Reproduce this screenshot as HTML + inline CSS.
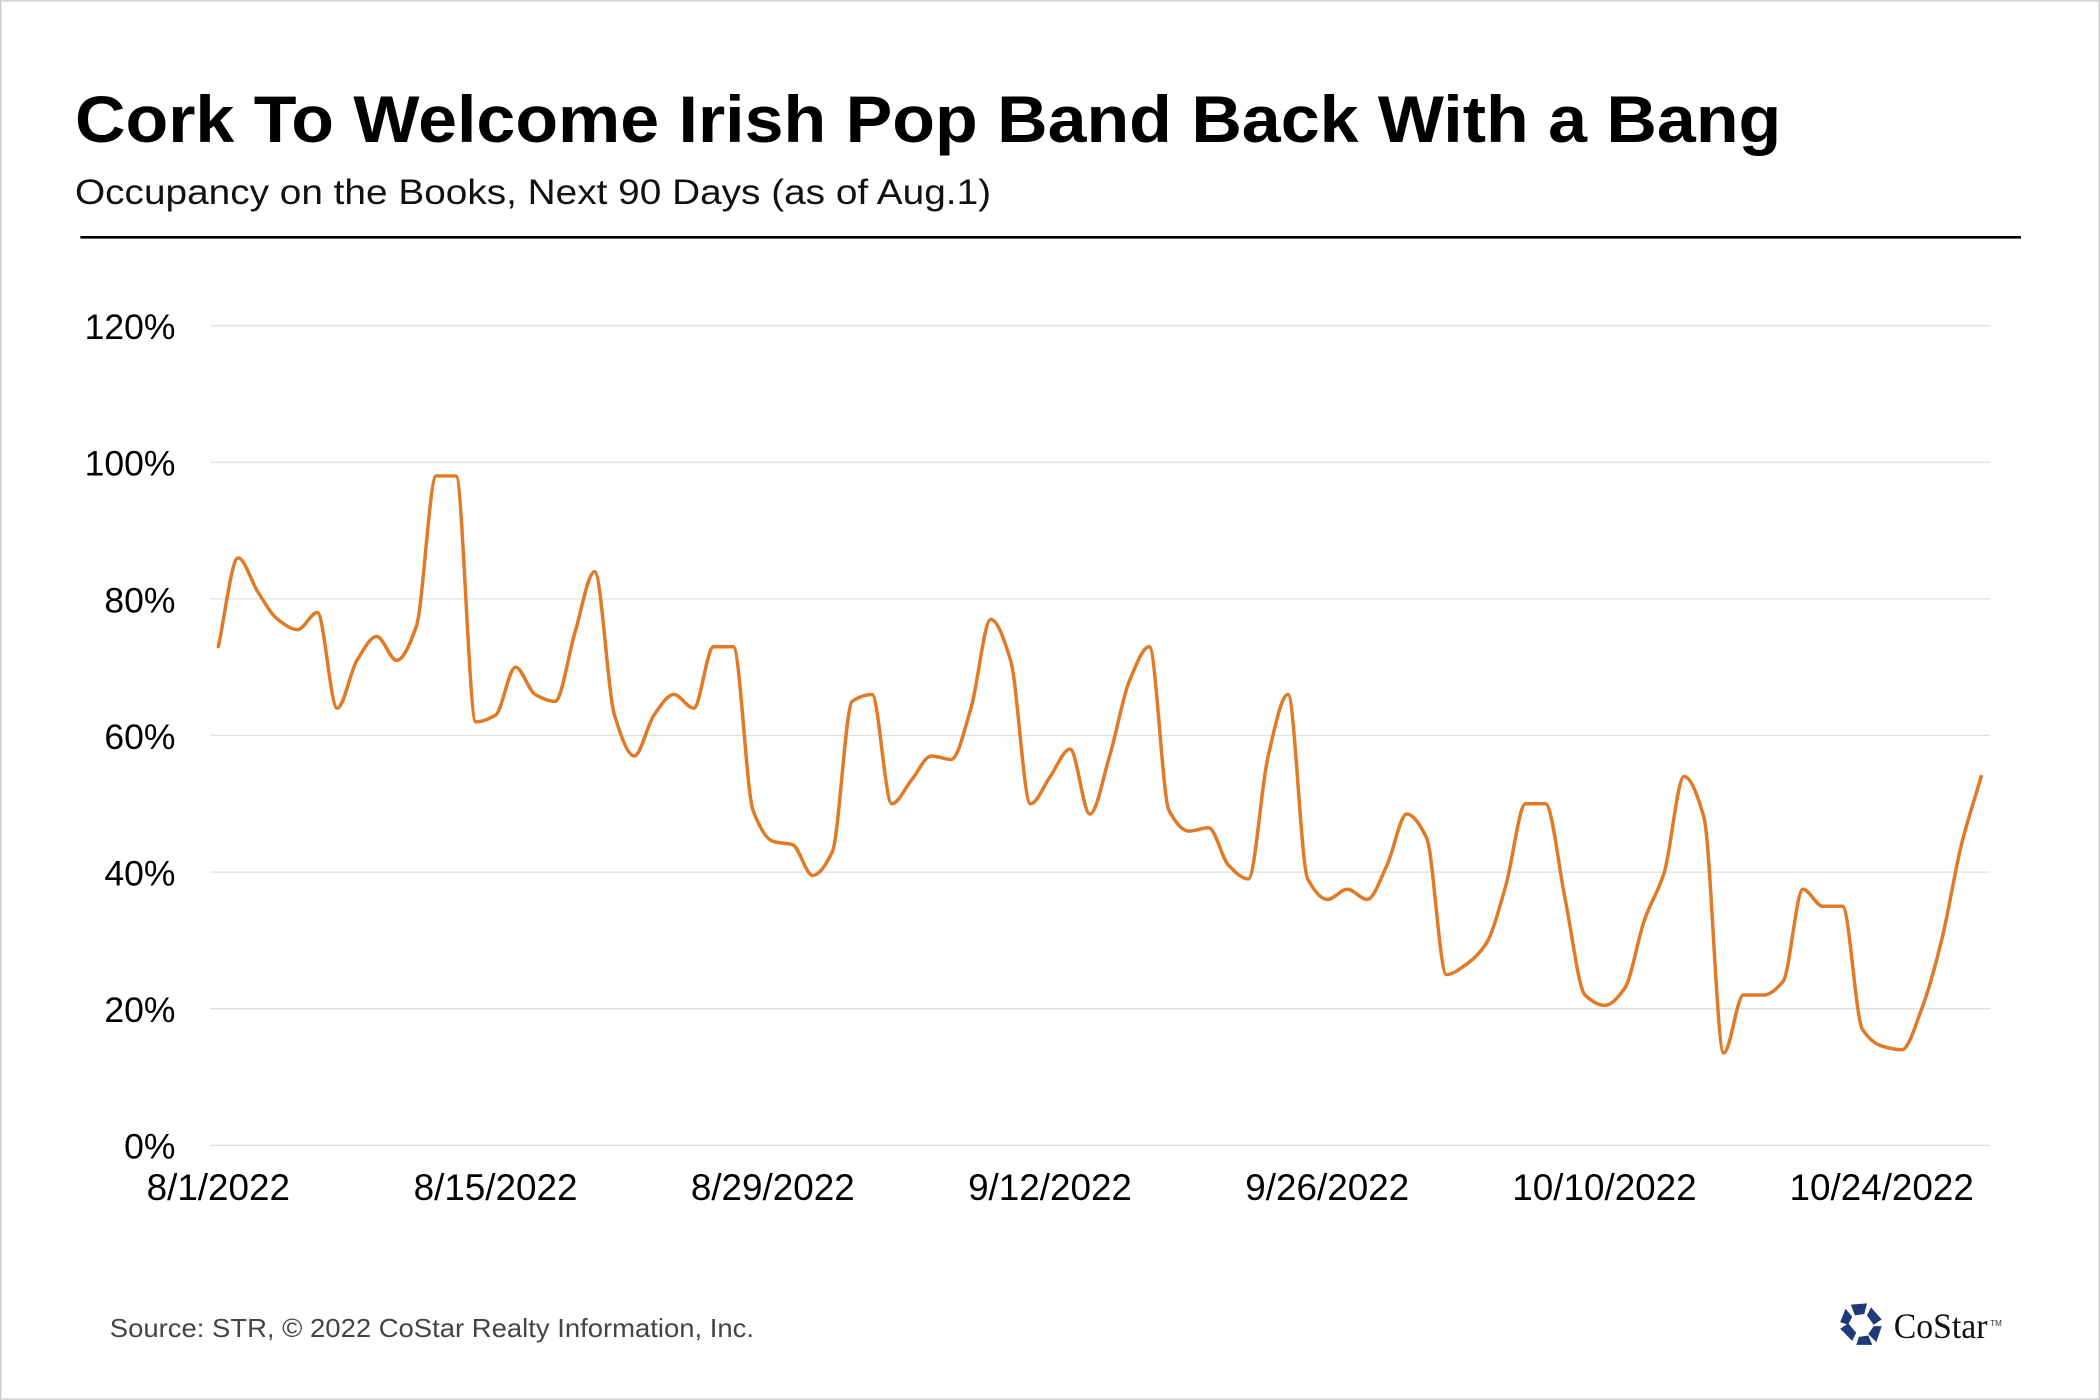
<!DOCTYPE html>
<html><head><meta charset="utf-8"><style>
html,body{margin:0;padding:0;background:#fff}
svg{display:block}
.t{font-family:"Liberation Sans",Arial,sans-serif}
.sr{font-family:"Liberation Serif",serif}
</style></head><body>
<svg id="s" width="2100" height="1400" viewBox="0 0 1568 1045" xmlns="http://www.w3.org/2000/svg">
<rect x="0.5" y="0.5" width="1567" height="1044" fill="#fff" stroke="#c8c8c8" stroke-width="1"/>
<text class="t" x="56" y="106" font-size="49" font-weight="bold" fill="#000" textLength="1274" lengthAdjust="spacingAndGlyphs">Cork To Welcome Irish Pop Band Back With a Bang</text>
<text class="t" x="56" y="152" font-size="26" fill="#111" textLength="684" lengthAdjust="spacingAndGlyphs">Occupancy on the Books, Next 90 Days (as of Aug.1)</text>
<line x1="60" y1="177" x2="1509" y2="177" stroke="#000" stroke-width="2"/>
<g stroke="#e0e0e0" stroke-width="1">
<line x1="157" y1="243" x2="1486" y2="243"/><line x1="157" y1="345" x2="1486" y2="345"/>
<line x1="157" y1="447" x2="1486" y2="447"/><line x1="157" y1="549" x2="1486" y2="549"/>
<line x1="157" y1="651" x2="1486" y2="651"/><line x1="157" y1="753" x2="1486" y2="753"/>
<line x1="157" y1="855" x2="1486" y2="855"/>
</g>
<g class="t" font-size="26.5" fill="#000" text-anchor="end">
<text x="131" y="253">120%</text><text x="131" y="355">100%</text><text x="131" y="457">80%</text>
<text x="131" y="559">60%</text><text x="131" y="661">40%</text><text x="131" y="763">20%</text><text x="131" y="865">0%</text>
</g>
<g class="t" font-size="27.5" fill="#000" text-anchor="middle">
<text x="163" y="896">8/1/2022</text><text x="370" y="896">8/15/2022</text><text x="577" y="896">8/29/2022</text>
<text x="784" y="896">9/12/2022</text><text x="991" y="896">9/26/2022</text><text x="1198" y="896">10/10/2022</text>
<text x="1405" y="896">10/24/2022</text>
</g>
<path id="ln" fill="none" stroke="#e07a26" stroke-width="2.6" stroke-linejoin="round" stroke-linecap="round"/>
<text class="t" x="82" y="998" font-size="19" fill="#444" textLength="481" lengthAdjust="spacingAndGlyphs">Source: STR, © 2022  CoStar Realty Information, Inc.</text>
<g transform="translate(1390,989)" fill="#1f3a78">
<polygon points="-8,-15 4,-16 2,-8 -5,-7"/>
<polygon points="7,-13 15,-4 9,0 4,-7"/>
<polygon points="15,1 11,13 5,7 9,1"/>
<polygon points="8,15 -4,15 -2,9 5,8"/>
<polygon points="-7,12 -16,3 -10,-1 -4,6"/>
<polygon points="-16,-2 -12,-12 -7,-6 -10,0"/>
</g>
<text class="sr" x="1414" y="999" font-size="27" fill="#111" textLength="70" lengthAdjust="spacingAndGlyphs">CoStar</text>
<text class="t" x="1486" y="990" font-size="6" fill="#333">TM</text>
</svg>
<script>
var v=[73,86,81,77,75.5,78,64,71,74.5,71,76,98,98,62,63,70,66,65,75,84,63,57,63,66,64,73,73,49,44.5,44,39.5,43,65,66,50,53.5,57,56.5,64,77,71,50,54,58,48.5,57,68,73,49,46,46.5,41,39,57,66,39,36,37.5,36,41,48.5,45,25,26.5,29.5,38,50,50,36,22,20.5,23,33,40,54,48,13.5,22,22,24,37.5,35,35,17,14.5,14,20,30,44,54];
var n=v.length,h=14.79;
var X=v.map(function(_,i){return 163+h*i;}),Y=v.map(function(y){return 855-5.1*y;});
var dl=[],m=[];
for(var i=0;i<n-1;i++)dl.push((Y[i+1]-Y[i])/h);
m[0]=dl[0];m[n-1]=dl[n-2];
for(i=1;i<n-1;i++){if(dl[i-1]*dl[i]<=0)m[i]=0;else m[i]=2/(1/dl[i-1]+1/dl[i]);}
var d="M"+X[0].toFixed(1)+","+Y[0].toFixed(1);
for(i=0;i<n-1;i++){d+=" C"+(X[i]+h/3).toFixed(1)+","+(Y[i]+m[i]*h/3).toFixed(1)+" "+(X[i+1]-h/3).toFixed(1)+","+(Y[i+1]-m[i+1]*h/3).toFixed(1)+" "+X[i+1].toFixed(1)+","+Y[i+1].toFixed(1);}
document.getElementById("ln").setAttribute("d",d);
</script>
</body></html>
